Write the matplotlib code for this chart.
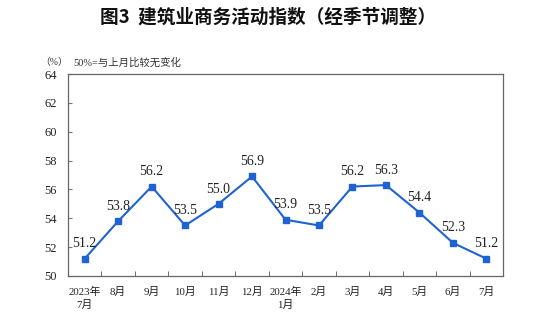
import matplotlib
matplotlib.use('Agg')
import matplotlib.pyplot as plt
from matplotlib.ticker import FixedLocator

#Chart data
months = ['2023年\n7月', '8月', '9月', '10月', '11月', '12月', '2024年\n1月',
          '2月', '3月', '4月', '5月', '6月', '7月']
index_values = [51.2, 53.8, 56.2, 53.5, 55.0, 56.9, 53.9, 53.5, 56.2, 56.3, 54.4, 52.3, 51.2]
y_ticks = [50, 52, 54, 56, 58, 60, 62, 64]

serif_cjk = ['Liberation Serif', 'Noto Sans CJK SC']
plt.rcParams['font.family'] = serif_cjk

fig = plt.figure(figsize=(5.54, 3.25), dpi=100)
ax = fig.add_axes([0.1227, 0.1508, 0.7853, 0.6215])

x = list(range(len(months)))
ax.plot(x, index_values, color='#1F63D2', linewidth=1.5, marker='s', markersize=3.8)

#Value labels above every point
for i, v in enumerate(index_values):
    ax.annotate(f'{v:.1f}', (x[i], v), textcoords='offset points', xytext=(0, 6),
                ha='center', va='bottom', fontsize=10, color='#222222')

ax.set_xlim(-0.5, len(months) - 0.5)
ax.set_ylim(50, 64)
ax.set_yticks(y_ticks)
ax.set_xticks(x)
ax.set_xticklabels(months, fontsize=7.8, color='#222222', linespacing=1.3)
ax.xaxis.set_minor_locator(FixedLocator([i + 0.5 for i in range(len(months) - 1)]))
ax.tick_params(axis='x', which='major', length=0, pad=8)
ax.tick_params(axis='x', which='minor', direction='in', length=3.5, color='#555555')
ax.tick_params(axis='y', direction='in', length=3, color='#777777', labelsize=9,
               labelcolor='#222222', pad=8)

for s in ax.spines.values():
    s.set_color('#666666')
    s.set_linewidth(0.9)

fig.text(0.484, 0.948, '图3  建筑业商务活动指数（经季节调整）', ha='center', va='center',
         fontsize=13.4, fontweight='bold', family=['Noto Sans CJK SC'], color='#111111')
fig.text(0.098, 0.809, '（%）', ha='center', va='center', fontsize=7, color='#333333')
fig.text(0.132, 0.809, '50%=与上月比较无变化', ha='left', va='center', fontsize=7.5,
         color='#333333')

fig.savefig('out.png', dpi=100)
